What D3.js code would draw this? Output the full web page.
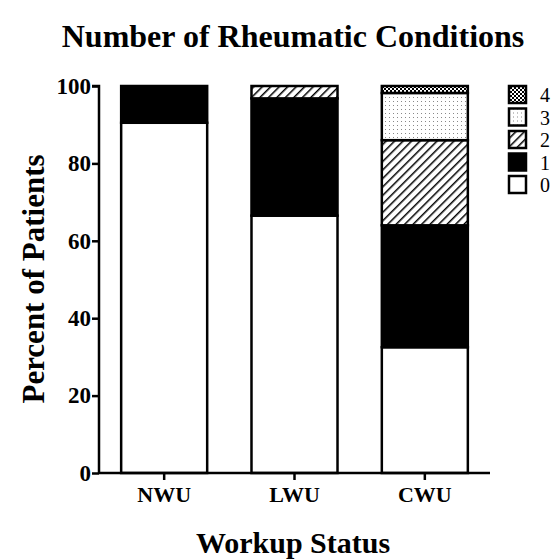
<!DOCTYPE html>
<html>
<head>
<meta charset="utf-8">
<script src="https://cdn.jsdelivr.net/npm/d3@7"></script>
<style>
  body { margin: 0; background: #fff; }
  text { font-family: "Liberation Serif", "Times New Roman", serif; }
</style>
</head>
<body>
<div id="chart"></div>
<script>
// categories + stacked series (percent of patients per workup status)
const statuses = ['NWU', 'LWU', 'CWU'];
const conditionKeys = ['0', '1', '2', '3', '4'];
const cond0 = [90.5, 66.5, 32.5];
const cond1 = [9.5, 30.3, 31.5];
const cond2 = [0, 3.2, 22];
const cond3 = [0, 0, 12.2];
const cond4 = [0, 0, 1.8];
const yTicks = [0, 20, 40, 60, 80, 100];

const rows = statuses.map((s, i) => ({
    status: s, '0': cond0[i], '1': cond1[i], '2': cond2[i], '3': cond3[i], '4': cond4[i]
}));

const W = 558, H = 559;
const svg = d3.select('#chart').append('svg')
    .attr('width', W)
    .attr('height', H);

// fill patterns
const defs = svg.append('defs');
const hatch = defs.append('pattern').attr('id', 'hatch')
    .attr('patternUnits', 'userSpaceOnUse').attr('width', 6).attr('height', 6)
    .attr('patternTransform', 'rotate(45)');
hatch.append('rect').attr('width', 6).attr('height', 6).attr('fill', '#fff');
hatch.append('line').attr('x1', 0).attr('y1', 0).attr('x2', 0).attr('y2', 6)
    .attr('stroke', '#000').attr('stroke-width', 3);

const dots = defs.append('pattern').attr('id', 'dots')
    .attr('patternUnits', 'userSpaceOnUse').attr('width', 4).attr('height', 4);
dots.append('rect').attr('width', 4).attr('height', 4).attr('fill', '#fff');
dots.append('rect').attr('x', 1).attr('y', 1).attr('width', 1).attr('height', 1).attr('fill', '#888');

const checker = defs.append('pattern').attr('id', 'checker')
    .attr('patternUnits', 'userSpaceOnUse').attr('width', 4).attr('height', 4);
checker.append('rect').attr('width', 4).attr('height', 4).attr('fill', '#fff');
checker.append('rect').attr('width', 2).attr('height', 2).attr('fill', '#000');
checker.append('rect').attr('x', 2).attr('y', 2).attr('width', 2).attr('height', 2).attr('fill', '#000');

const fills = {'0': '#fff', '1': '#000', '2': 'url(#hatch)', '3': 'url(#dots)', '4': 'url(#checker)'};

const x = d3.scaleBand().domain(statuses).range([99, 490])
    .paddingInner(0.34).paddingOuter(0.17);
const y = d3.scaleLinear().domain([0, 100]).range([473, 86]);

const stack = d3.stack().keys(conditionKeys);
const series = stack(rows);

svg.append('g')
    .selectAll('g')
    .data(series)
    .join('g')
    .attr('fill', d => fills[d.key])
    .selectAll('rect')
    .data(d => d.filter(p => p[1] - p[0] > 0))
    .join('rect')
    .attr('x', d => x(d.data.status))
    .attr('width', x.bandwidth())
    .attr('y', d => y(d[1]))
    .attr('height', d => y(d[0]) - y(d[1]))
    .attr('stroke', '#000')
    .attr('stroke-width', 2.5);

// axes
const yAxis = svg.append('g')
    .attr('transform', 'translate(99,0)')
    .call(d3.axisLeft(y).tickValues(yTicks).tickSize(7).tickPadding(1));
const xAxis = svg.append('g')
    .attr('transform', 'translate(0,473)')
    .call(d3.axisBottom(x).tickSize(7).tickPadding(6).tickSizeOuter(0));

[yAxis, xAxis].forEach(ax => {
    ax.select('.domain').attr('stroke-width', 2.5).attr('stroke', '#000');
    ax.selectAll('.tick line').attr('stroke-width', 2.5).attr('stroke', '#000');
    ax.selectAll('.tick text')
        .attr('font-family', '"Liberation Serif", serif')
        .attr('font-weight', 'bold')
        .attr('fill', '#000');
});
yAxis.selectAll('.tick text').attr('font-size', 23);
xAxis.selectAll('.tick text').attr('font-size', 22);
yAxis.select('.domain').attr('d', 'M-7,86H0V473');
xAxis.select('.domain').attr('d', 'M99,0H490');

// titles
svg.append('text')
    .attr('x', 293).attr('y', 47)
    .attr('text-anchor', 'middle')
    .attr('font-weight', 'bold')
    .attr('font-size', 32)
    .text('Number of Rheumatic Conditions');

svg.append('text')
    .attr('transform', 'translate(44,279) rotate(-90)')
    .attr('text-anchor', 'middle')
    .attr('font-weight', 'bold')
    .attr('font-size', 31)
    .text('Percent of Patients');

svg.append('text')
    .attr('x', 293).attr('y', 553)
    .attr('text-anchor', 'middle')
    .attr('font-weight', 'bold')
    .attr('font-size', 30)
    .text('Workup Status');

// legend (top to bottom: 4 .. 0)
const legend = svg.append('g').attr('transform', 'translate(508,85)');
const legendKeys = conditionKeys.slice().reverse();
const item = legend.selectAll('g').data(legendKeys).join('g')
    .attr('transform', (d, i) => `translate(0,${i * 22.5})`);
item.append('rect')
    .attr('x', 1).attr('y', 1)
    .attr('width', 17).attr('height', 17)
    .attr('fill', d => fills[d])
    .attr('stroke', '#000').attr('stroke-width', 2.5);
item.append('text')
    .attr('x', 32).attr('y', 17)
    .attr('font-size', 20)
    .text(d => d);
</script>
</body>
</html>
